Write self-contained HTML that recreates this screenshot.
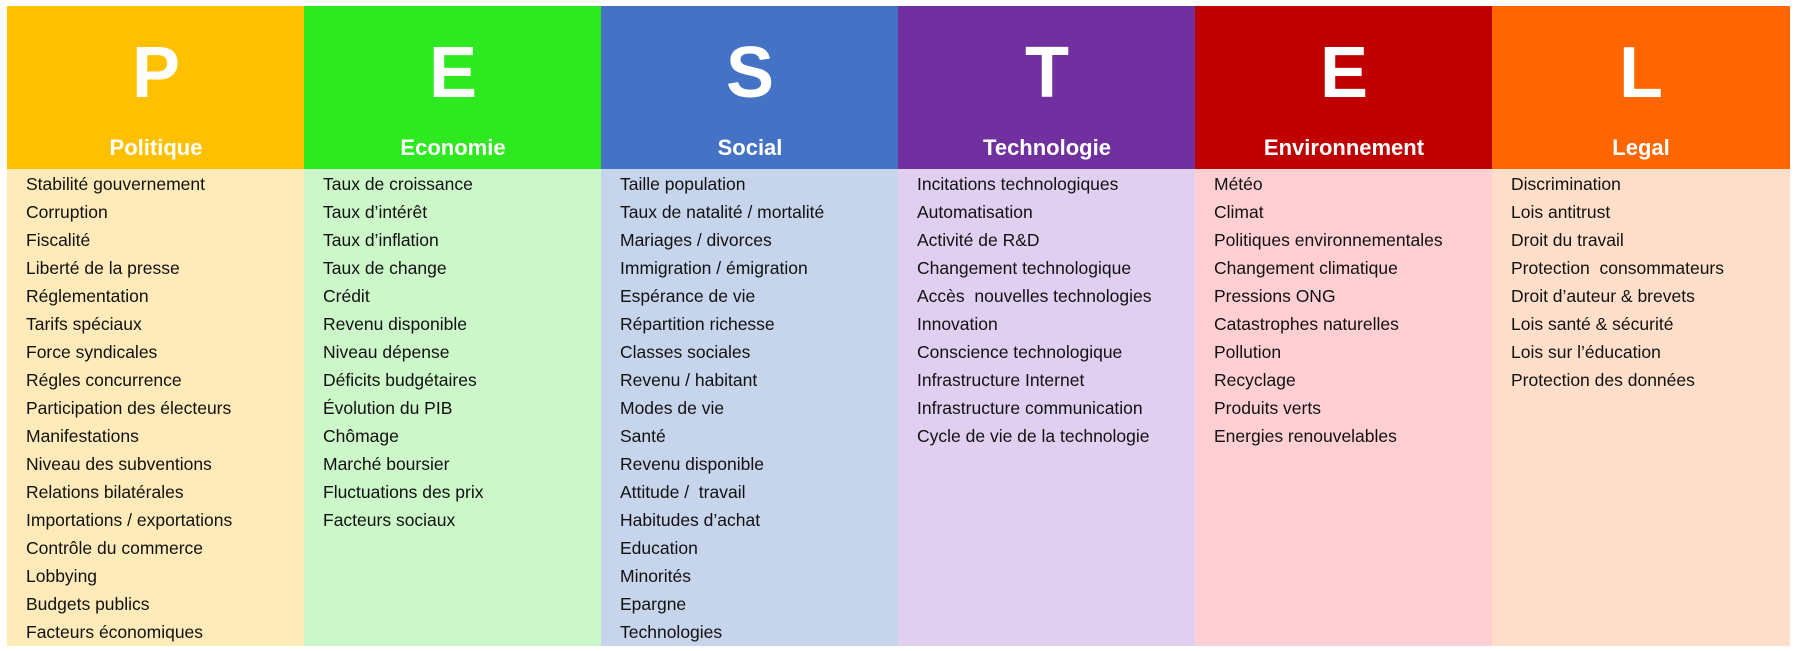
<!DOCTYPE html>
<html><head><meta charset="utf-8"><style>
body{margin:0;width:1797px;height:651px;background:#fff;position:relative;overflow:hidden;font-family:"Liberation Sans",sans-serif}
.col{position:absolute;top:6px;width:298px;height:640px}
.hd{position:absolute;left:0;top:0;width:100%;height:163px;color:#fff;text-align:center}
.lt{position:absolute;left:0;width:100%;top:31px;font-size:72px;font-weight:bold;line-height:72px}
.lb{position:absolute;left:0;width:100%;top:127px;font-size:22px;font-weight:bold;line-height:30px}
.bd{position:absolute;left:0;top:163px;width:100%;height:477px}
.bd div{position:absolute;left:19px;font-size:17.5px;color:#111;white-space:pre;line-height:20px}
</style></head><body>
<div class="col" style="left:7px"><div class="hd" style="background:#FFC000"><div class="lt">P</div><div class="lb">Politique</div></div><div class="bd" style="background:#FFEBB9" id="b0"></div></div>
<div class="col" style="left:304px"><div class="hd" style="background:#2EE820"><div class="lt">E</div><div class="lb">Economie</div></div><div class="bd" style="background:#CCF7C9" id="b1"></div></div>
<div class="col" style="left:601px"><div class="hd" style="background:#4472C4"><div class="lt">S</div><div class="lb">Social</div></div><div class="bd" style="background:#C6D5EC" id="b2"></div></div>
<div class="col" style="left:898px"><div class="hd" style="background:#7030A0"><div class="lt">T</div><div class="lb">Technologie</div></div><div class="bd" style="background:#E1CFF1" id="b3"></div></div>
<div class="col" style="left:1195px"><div class="hd" style="background:#C00000"><div class="lt">E</div><div class="lb">Environnement</div></div><div class="bd" style="background:#FFCFD3" id="b4"></div></div>
<div class="col" style="left:1492px"><div class="hd" style="background:#FF6600"><div class="lt">L</div><div class="lb">Legal</div></div><div class="bd" style="background:#FFDFCA" id="b5"></div></div>
<script>
var d=[
["Stabilité gouvernement","Corruption","Fiscalité","Liberté de la presse","Réglementation","Tarifs spéciaux","Force syndicales","Régles concurrence","Participation des électeurs","Manifestations","Niveau des subventions","Relations bilatérales","Importations / exportations","Contrôle du commerce","Lobbying","Budgets publics","Facteurs économiques"],
["Taux de croissance","Taux d’intérêt","Taux d’inflation","Taux de change","Crédit","Revenu disponible","Niveau dépense","Déficits budgétaires","Évolution du PIB","Chômage","Marché boursier","Fluctuations des prix","Facteurs sociaux"],
["Taille population","Taux de natalité / mortalité","Mariages / divorces","Immigration / émigration","Espérance de vie","Répartition richesse","Classes sociales","Revenu / habitant","Modes de vie","Santé","Revenu disponible","Attitude /  travail","Habitudes d’achat","Education","Minorités","Epargne","Technologies"],
["Incitations technologiques","Automatisation","Activité de R&D","Changement technologique","Accès  nouvelles technologies","Innovation","Conscience technologique","Infrastructure Internet","Infrastructure communication","Cycle de vie de la technologie"],
["Météo","Climat","Politiques environnementales","Changement climatique","Pressions ONG","Catastrophes naturelles","Pollution","Recyclage","Produits verts","Energies renouvelables"],
["Discrimination","Lois antitrust","Droit du travail","Protection  consommateurs","Droit d’auteur & brevets","Lois santé & sécurité","Lois sur l’éducation","Protection des données"]];
d.forEach(function(a,i){var b=document.getElementById('b'+i);a.forEach(function(t,j){var e=document.createElement('div');e.textContent=t;e.style.top=(5+28*j)+'px';b.appendChild(e);});});
</script>
</body></html>
